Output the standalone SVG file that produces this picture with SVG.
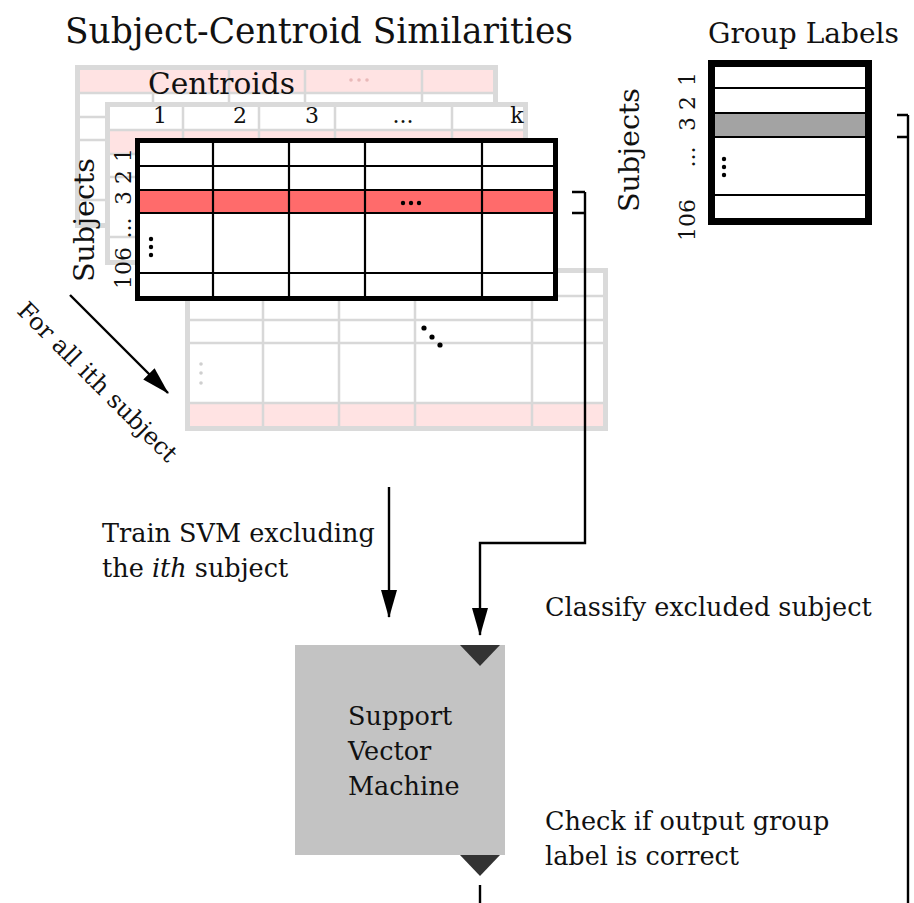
<svg xmlns="http://www.w3.org/2000/svg" width="914" height="903" viewBox="0 0 914 903">
<style>
 text{font-family:"DejaVu Serif","Liberation Serif",serif;fill:#111}
 .bg{fill:#fff}
 .ghost .border{fill:none;stroke:#dadada;stroke-width:5}
 .ghost .grid{stroke:#d8d8d8;stroke-width:2.5;fill:none}
 .ghost .hl{fill:#ffe3e3}
 .main .border{fill:none;stroke:#000;stroke-width:5}
 .main .grid{stroke:#000;stroke-width:2.2;fill:none}
 .main .hl{fill:#ff6b6b}
 .conn{fill:none;stroke:#000;stroke-width:2.4}
 .body{font-size:25.5px}
 .num{font-size:22px}
 .subj{font-size:28.5px}
 .dot{fill:#000}
</style>
<defs>
 <path id="gridlines" d="M78,3V160M154,3V160M230,3V160M347,3V160M3,28H420M3,52H420M3,75H420M3,135H420"/>
 <marker id="ah" markerUnits="userSpaceOnUse" markerWidth="28" markerHeight="16" refX="27" refY="8" orient="auto"><path d="M0,0 L28,8 L0,16 Z" fill="#000"/></marker>
</defs>
<rect width="914" height="903" fill="#fff"/>

<text id="title" x="65" y="43" font-size="35" textLength="508" lengthAdjust="spacingAndGlyphs">Subject-Centroid Similarities</text>

<!-- back table (subject 1) -->
<g id="table-back" class="ghost" transform="translate(75,65)">
 <rect class="bg" x="0" y="0" width="423" height="163"/>
 <rect class="hl" x="5" y="5" width="413" height="23"/>
 <use href="#gridlines" class="grid"/>
 <rect class="border" x="2.5" y="2.5" width="418" height="158"/>
 <circle cx="276" cy="15" r="1.8" fill="#e9b9b9"/><circle cx="284" cy="15" r="1.8" fill="#e9b9b9"/><circle cx="292" cy="15" r="1.8" fill="#e9b9b9"/>
</g>
<text id="centroids" x="148" y="94" font-size="30" textLength="147" lengthAdjust="spacingAndGlyphs">Centroids</text>

<!-- middle table (subject 2) -->
<g id="table-mid" class="ghost" transform="translate(105,102)">
 <rect class="bg" x="0" y="0" width="423" height="163"/>
 <rect class="hl" x="5" y="28" width="413" height="24"/>
 <use href="#gridlines" class="grid"/>
 <rect class="border" x="2.5" y="2.5" width="418" height="158"/>
</g>
<g id="centroid-labels" class="num">
 <text x="160" y="123" text-anchor="middle">1</text>
 <text x="240" y="123" text-anchor="middle">2</text>
 <text x="312" y="123" text-anchor="middle">3</text>
 <text x="403" y="123" text-anchor="middle">...</text>
 <text x="517" y="123" text-anchor="middle">k</text>
</g>

<!-- lower table (subject 106) -->
<g id="table-low" class="ghost" transform="translate(185,268)">
 <rect class="bg" x="0" y="0" width="423" height="163"/>
 <rect class="hl" x="5" y="135" width="413" height="23"/>
 <use href="#gridlines" class="grid"/>
 <rect class="border" x="2.5" y="2.5" width="418" height="158"/>
 <circle cx="16" cy="96" r="1.8" fill="#cfcfcf"/><circle cx="16" cy="105" r="1.8" fill="#cfcfcf"/><circle cx="16" cy="115" r="1.8" fill="#cfcfcf"/>
 <circle cx="239" cy="60" r="2.6" class="dot"/><circle cx="247" cy="69" r="2.6" class="dot"/><circle cx="255" cy="77" r="2.6" class="dot"/>
</g>

<!-- front table (subject 3) -->
<g id="table-front" class="main" transform="translate(135,138)">
 <rect class="bg" x="0" y="0" width="423" height="163"/>
 <rect class="hl" x="5" y="52" width="413" height="23"/>
 <use href="#gridlines" class="grid"/>
 <rect class="border" x="2.5" y="2.5" width="418" height="158"/>
 <circle cx="268" cy="65" r="2.2" class="dot"/><circle cx="276" cy="65" r="2.2" class="dot"/><circle cx="284" cy="65" r="2.2" class="dot"/>
 <circle cx="16" cy="101" r="2.2" class="dot"/><circle cx="16" cy="109" r="2.2" class="dot"/><circle cx="16" cy="117" r="2.2" class="dot"/>
</g>
<g id="front-subject-labels">
 <text class="subj" transform="translate(94,220) rotate(-90)" text-anchor="middle">Subjects</text>
 <g class="num">
  <text transform="translate(131,155) rotate(-90)" text-anchor="middle">1</text>
  <text transform="translate(131,177) rotate(-90)" text-anchor="middle">2</text>
  <text transform="translate(131,198) rotate(-90)" text-anchor="middle">3</text>
  <text transform="translate(131,228) rotate(-90)" text-anchor="middle">...</text>
  <text transform="translate(131,268) rotate(-90)" text-anchor="middle">106</text>
 </g>
</g>

<!-- group labels -->
<text id="group-title" x="708" y="43" font-size="28" textLength="191" lengthAdjust="spacingAndGlyphs">Group Labels</text>
<g id="group-table">
 <rect x="711.5" y="63.5" width="157" height="158" fill="#fff"/>
 <rect x="715" y="113" width="150" height="24" fill="#a3a3a3"/>
 <path d="M713,88H867M713,113H867M713,137H867M713,195H867" stroke="#000" stroke-width="2.2" fill="none"/>
 <rect x="711.5" y="63.5" width="157" height="158" fill="none" stroke="#000" stroke-width="7"/>
 <circle cx="724" cy="159" r="2.2" class="dot"/><circle cx="724" cy="167" r="2.2" class="dot"/><circle cx="724" cy="175" r="2.2" class="dot"/>
</g>
<g id="group-subject-labels">
 <text class="subj" transform="translate(639,150) rotate(-90)" text-anchor="middle">Subjects</text>
 <g class="num">
  <text transform="translate(695,79) rotate(-90)" text-anchor="middle">1</text>
  <text transform="translate(695,103) rotate(-90)" text-anchor="middle">2</text>
  <text transform="translate(695,124) rotate(-90)" text-anchor="middle">3</text>
  <text transform="translate(695,157) rotate(-90)" text-anchor="middle">...</text>
  <text transform="translate(695,220) rotate(-90)" text-anchor="middle">106</text>
 </g>
</g>

<!-- SVM node -->
<g id="svm">
 <rect x="295" y="645" width="210" height="210" fill="#c3c3c3"/>
 <path d="M460,645H500L480,666Z" fill="#333"/>
 <path d="M460,855H500L480,876Z" fill="#333"/>
 <text class="body" x="348" y="725">Support</text>
 <text class="body" x="348" y="760">Vector</text>
 <text class="body" x="348" y="795">Machine</text>
</g>

<!-- labels -->
<text id="for-all" transform="translate(16,312) rotate(45)" style="font-size:24px">For all ith subject</text>
<text id="train-1" class="body" x="102" y="542">Train SVM excluding</text>
<text id="train-2" class="body" x="102" y="577">the <tspan font-style="italic">ith</tspan> subject</text>
<text id="classify" class="body" x="545" y="616">Classify excluded subject</text>
<text id="check-1" class="body" x="545" y="830">Check if output group</text>
<text id="check-2" class="body" x="545" y="865">label is correct</text>

<!-- connectors -->
<g id="connectors" class="conn">
 <path d="M70,295L168,393" marker-end="url(#ah)"/>
 <path d="M389,487V617" marker-end="url(#ah)"/>
 <path d="M572,192H585M572,213H585"/>
 <path d="M585,192V543H480V635" marker-end="url(#ah)"/>
 <path d="M897,115H908M897,137H908"/>
 <path d="M908,115V903"/>
 <path d="M480,885V903"/>
</g>
</svg>
